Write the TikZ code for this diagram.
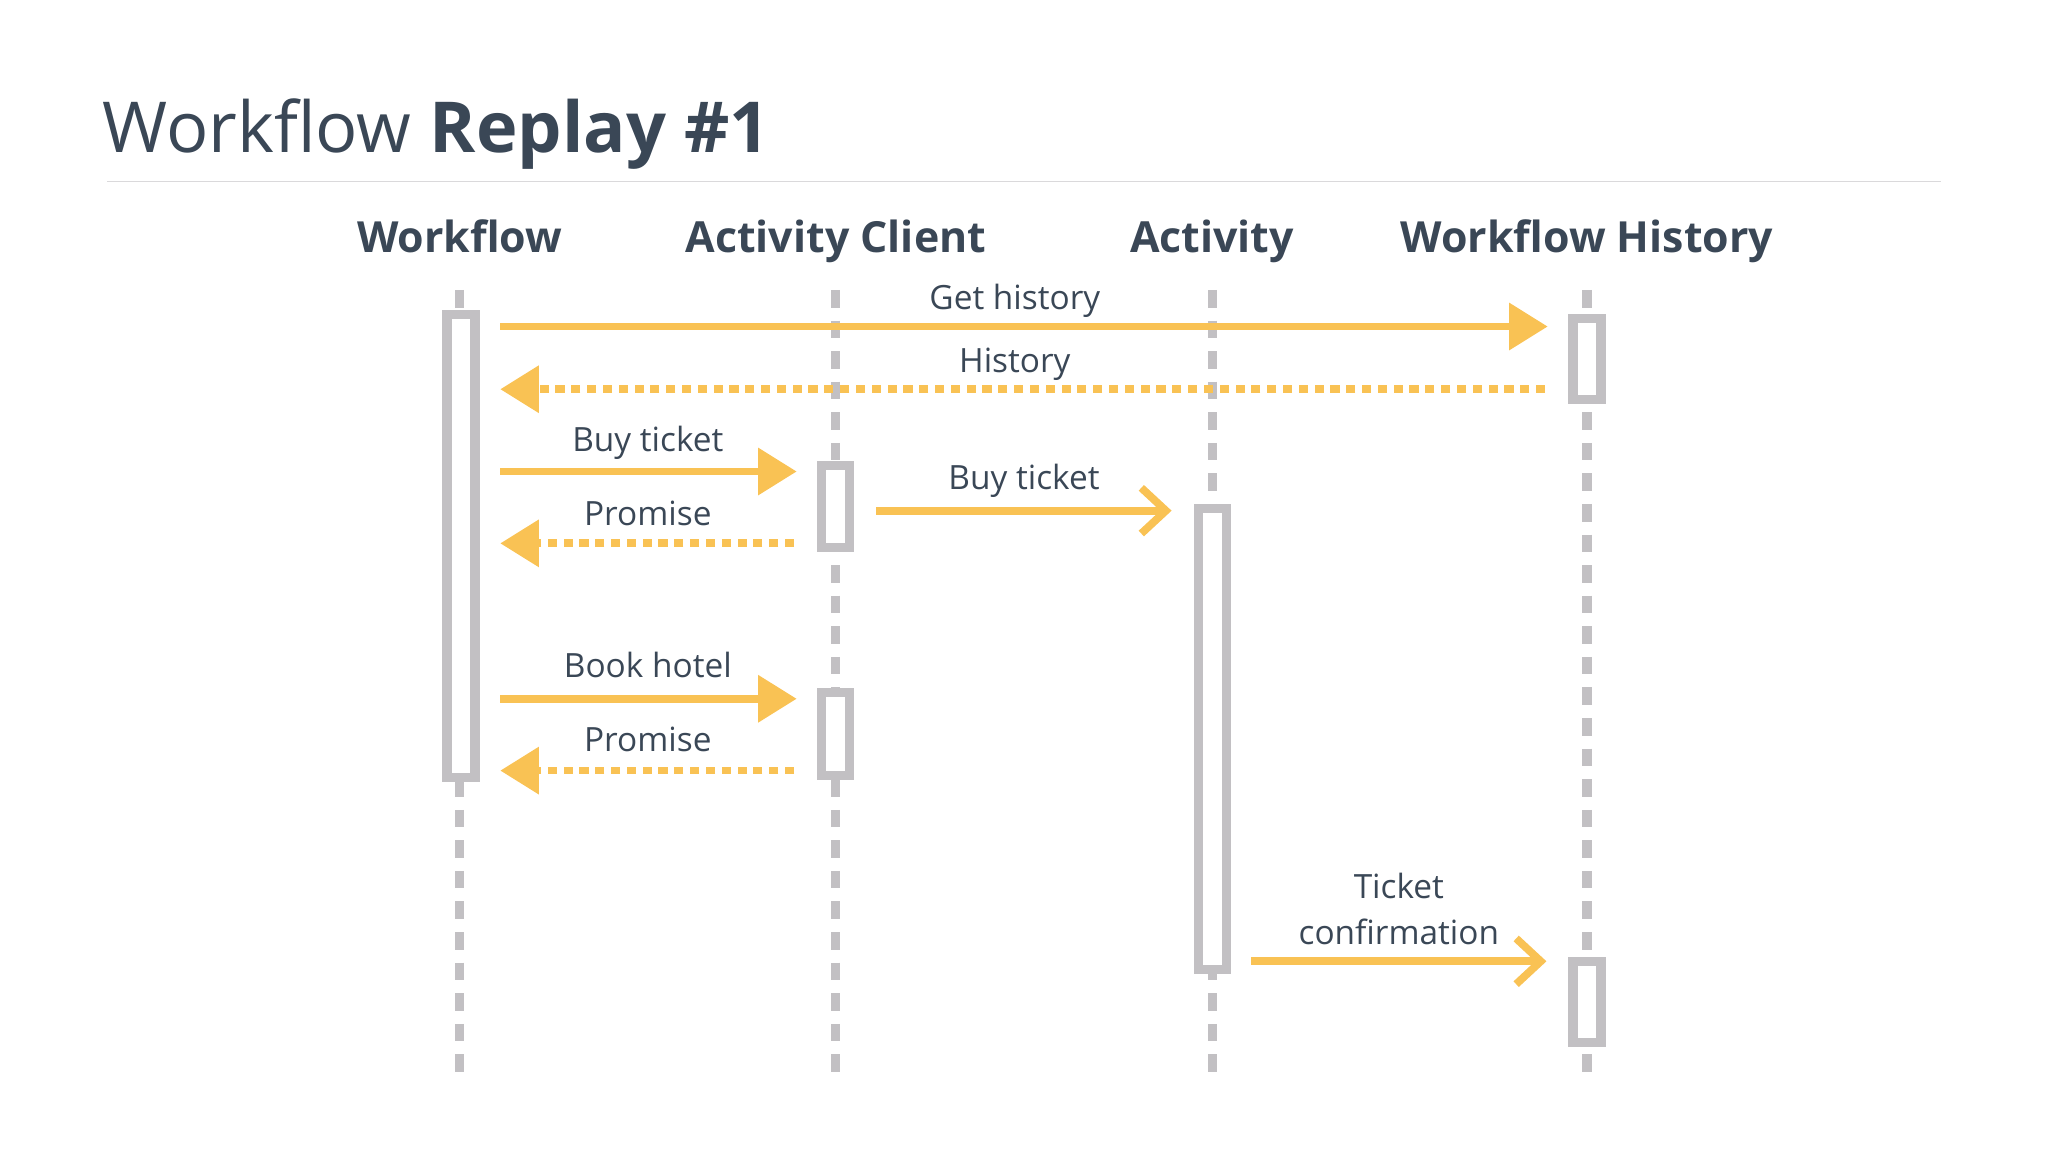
\documentclass[tikz,border=0pt]{standalone}
\usepackage{fontspec}
\setmainfont{Open Sans}
\usetikzlibrary{arrows.meta}
\definecolor{txt}{HTML}{3A4756}
\definecolor{ln}{HTML}{C2C0C3}
\definecolor{yl}{HTML}{F9C254}
\begin{document}
\begin{tikzpicture}[x=0.01306cm,y=-0.01306cm,
 life/.style={ln,line width=2.6pt,dash pattern=on 5pt off 3.7pt},
 act/.style={draw=ln,fill=white,line width=2.6pt,minimum width=0.28cm,inner sep=0pt},
 hd/.style={text=txt,font=\fontsize{12.2}{14}\selectfont\bfseries,anchor=base},
 lb/.style={text=txt,font=\fontsize{9.5}{11}\selectfont,anchor=base},
 msg/.style={yl,line width=2.2pt,-{Triangle[length=11pt,width=13pt]}},
 omsg/.style={yl,line width=2.2pt,-{Straight Barb[length=7pt,width=13pt,line width=2.2pt]}},
 ret/.style={yl,line width=2.2pt,dash pattern=on 2.6pt off 1.9pt,-{Triangle[length=11pt,width=13pt]}}]
\useasboundingbox (0,0) rectangle (1568,882);
\node[anchor=base west,text=txt,font=\fontsize{20}{24}\selectfont,inner sep=0] (title) at (78,117) {Workflow \textbf{Replay \#1}};
\draw[ln!60,line width=0.5pt] (82,139) coordinate (t1) -- (1486,139) coordinate (t2);
\node[hd] (hw) at (352,193) {Workflow};
\node[hd] (hc) at (640,193) {Activity Client};
\node[hd] (ha) at (928,193) {Activity};
\node[hd] (hh) at (1215,193) {Workflow History};
\foreach \n/\x in {w/352,c/640,a/928,h/1215}{
 \coordinate (\n0) at (\x,222); \coordinate (\n1) at (\x,822);
 \draw[life] (\n0) -- (\n1);}
\node[act,minimum height=355*0.01306cm] (bw) at (353,418) {};
\node[act,minimum height=62*0.01306cm] (bh1) at (1215,275) {};
\node[act,minimum height=63*0.01306cm] (bc1) at (640,388) {};
\node[act,minimum height=63*0.01306cm] (bc2) at (640,562) {};
\node[act,minimum height=353*0.01306cm] (ba) at (928,566) {};
\node[act,minimum height=62*0.01306cm] (bh2) at (1215,767) {};
\coordinate (s1) at (383,250); \coordinate (e1) at (1185,250);
\draw[msg] (s1) -- (e1);
\node[lb] (l1) at (777,237) {Get history};
\coordinate (s2) at (1183,298); \coordinate (e2) at (383,298);
\draw[ret] (s2) -- (e2);
\node[lb] (l2) at (777,285) {History};
\coordinate (s3) at (383,361); \coordinate (e3) at (610,361);
\draw[msg] (s3) -- (e3);
\node[lb] (l3) at (496,346) {Buy ticket};
\coordinate (s4) at (608,416); \coordinate (e4) at (383,416);
\draw[ret] (s4) -- (e4);
\node[lb] (l4) at (496,402) {Promise};
\coordinate (s5) at (671,391); \coordinate (e5) at (897,391);
\draw[omsg] (s5) -- (e5);
\node[lb] (l5) at (784,375) {Buy ticket};
\coordinate (s6) at (383,535); \coordinate (e6) at (610,535);
\draw[msg] (s6) -- (e6);
\node[lb] (l6) at (496,519) {Book hotel};
\coordinate (s7) at (608,590); \coordinate (e7) at (383,590);
\draw[ret] (s7) -- (e7);
\node[lb] (l7) at (496,575) {Promise};
\coordinate (s8) at (958,736); \coordinate (e8) at (1184,736);
\draw[omsg] (s8) -- (e8);
\node[lb] (l8a) at (1071,688) {Ticket};
\node[lb] (l8b) at (1071,723) {confirmation};
\end{tikzpicture}
\end{document}
